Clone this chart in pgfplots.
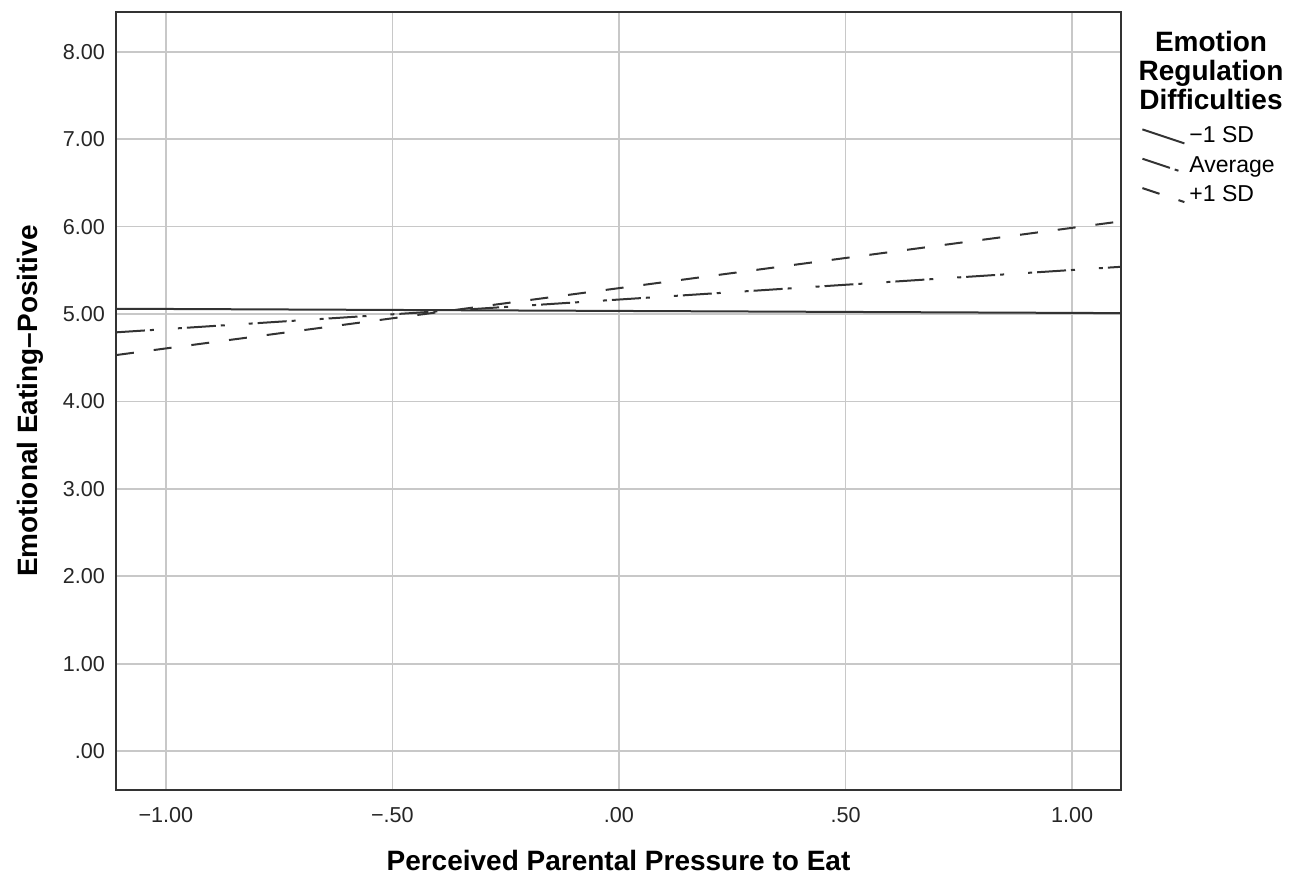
\documentclass[border=0pt]{standalone}
\usepackage{fontspec}
\setmainfont{Liberation Sans}
\usepackage{pgfplots}
\pgfplotsset{compat=1.18}
\definecolor{linec}{HTML}{333333}
\definecolor{gridc}{HTML}{C8C8C8}
\begin{document}
\begin{tikzpicture}
\begin{axis}[
  scale only axis,
  width=502.5pt, height=389pt,
  xmin=-1.11, xmax=1.108,
  ymin=-0.446, ymax=8.455,
  xtick={-1,-0.5,0,0.5,1},
  xticklabels={−1.00,−.50,.00,.50,1.00},
  ytick={0,1,2,3,4,5,6,7,8},
  yticklabels={.00,1.00,2.00,3.00,4.00,5.00,6.00,7.00,8.00},
  major tick length=0pt,
  grid=major,
  major grid style={gridc, line width=0.9pt},
  axis line style={linec, line width=1pt},
  tick label style={font=\fontsize{10.8}{12}\selectfont, text=black!85},
  xticklabel style={yshift=-5pt},
  yticklabel style={xshift=-2pt},
  xlabel={\bfseries Perceived Parental Pressure to Eat},
  ylabel={\bfseries Emotional Eating–Positive},
  label style={font=\fontsize{14}{16}\selectfont},
  xlabel style={yshift=-7pt},
  ylabel style={yshift=3pt},
  legend style={at={(1,0.858)}, anchor=north west, draw=none, fill=none,
    font=\fontsize{11.5}{13}\selectfont, row sep=1.2pt, inner sep=0pt,
    xshift=10pt},
  legend cell align=left,
  legend image code/.code={\draw[#1] (0pt,3.5pt) -- (21pt,-3.5pt);},
  clip=true,
]
\addplot[linec, line width=1pt] coordinates {(-1.11,5.06) (1.108,5.01)};
\addlegendentry{−1 SD}
\addplot[linec, line width=1pt, dash pattern=on 14.5pt off 2.5pt on 2pt off 12pt on 2pt off 2.5pt] coordinates {(-1.11,4.79) (1.108,5.54)};
\addlegendentry{Average}
\addplot[linec, line width=1pt, dash pattern=on 9pt off 10pt] coordinates {(-1.11,4.53) (1.108,6.06)};
\addlegendentry{+1 SD}
\end{axis}
\node[align=center, font=\bfseries\fontsize{14}{14.5}\selectfont, anchor=north]
  at ([xshift=45pt,yshift=-6pt]current axis.north east) {Emotion\\Regulation\\Difficulties};
\pgfresetboundingbox
\useasboundingbox ([xshift=-58pt,yshift=-42pt]current axis.south west) rectangle ([xshift=88.5pt,yshift=6pt]current axis.north east);
\end{tikzpicture}
\end{document}
